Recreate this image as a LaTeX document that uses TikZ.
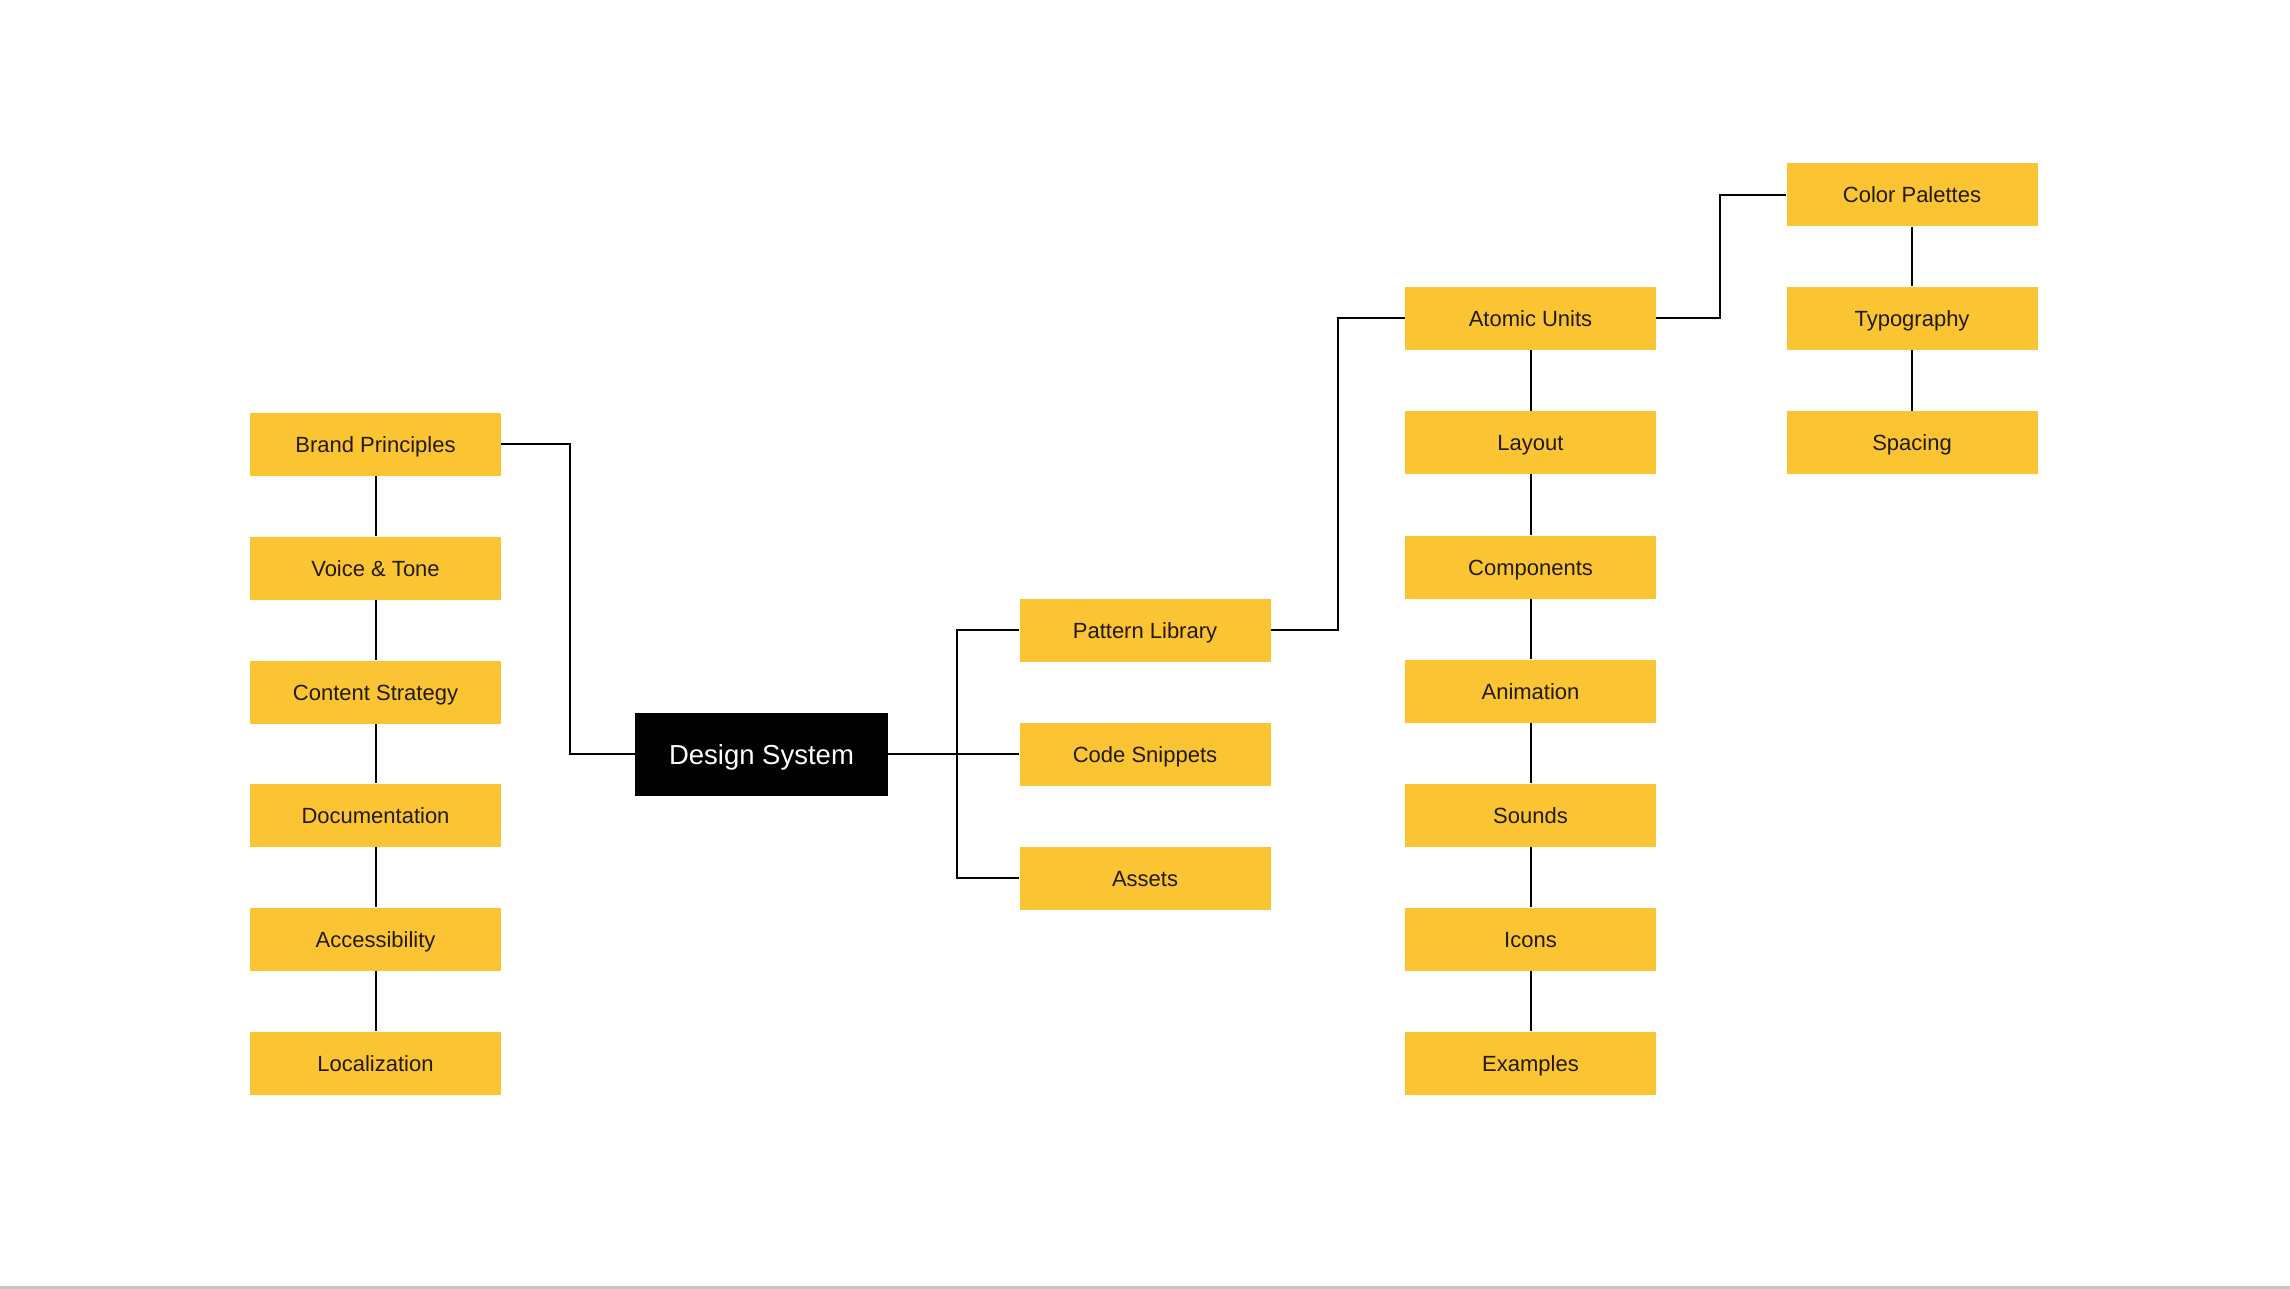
\documentclass[tikz,border=0pt]{standalone}
\usepackage{fontspec}
\setmainfont{Liberation Sans}
\definecolor{boxyellow}{RGB}{250,196,51}
\definecolor{boxtext}{RGB}{35,26,16}
\definecolor{rulegray}{RGB}{200,200,200}
\begin{document}
\begin{tikzpicture}[x=1pt,y=-1pt,
  item/.style={fill=boxyellow,draw=none,minimum width=251pt,minimum height=63pt,inner sep=0pt,
    font=\fontsize{22}{26}\selectfont,text=boxtext,text height=16pt,text depth=0pt},
  root/.style={fill=black,draw=none,minimum width=253pt,minimum height=83pt,inner sep=0pt,
    font=\fontsize{27.5}{32}\selectfont,text=white,text height=20pt,text depth=0pt},
  link/.style={draw=black,line width=2pt}]
\useasboundingbox (0,0) rectangle (2290,1289);
\fill[white] (0,0) rectangle (2290,1289);
\fill[rulegray] (0,1286) rectangle (2290,1289);
% left column
\node[item] (bp) at (375.5,444) {Brand Principles};
\node[item] (vt) at (375.5,568) {Voice \& Tone};
\node[item] (cst) at (375.5,692) {Content Strategy};
\node[item] (doc) at (375.5,815) {Documentation};
\node[item] (acc) at (375.5,939) {Accessibility};
\node[item] (loc) at (375.5,1063) {Localization};
% root
\node[root] (ds) at (761.5,754) {Design System};
% middle branch
\node[item] (pl) at (1145,630) {Pattern Library};
\node[item] (cs) at (1145,754) {Code Snippets};
\node[item] (as) at (1145,878) {Assets};
% pattern library column
\node[item] (au) at (1530.5,318) {Atomic Units};
\node[item] (lay) at (1530.5,442.5) {Layout};
\node[item] (comp) at (1530.5,567) {Components};
\node[item] (anim) at (1530.5,691) {Animation};
\node[item] (snd) at (1530.5,815) {Sounds};
\node[item] (ico) at (1530.5,939) {Icons};
\node[item] (ex) at (1530.5,1063) {Examples};
% atomic units column
\node[item] (cp) at (1912,195) {Color Palettes};
\node[item] (typ) at (1912,318) {Typography};
\node[item] (spc) at (1912,442.5) {Spacing};
% bus coordinates
\coordinate (b1) at (570,754);
\coordinate (b2) at (957,754);
\coordinate (b3) at (1338,630);
\coordinate (b4) at (1720,318);
% connectors
\draw[link] (bp.east) -| (b1) -- (ds.west);
\draw[link] (ds.east) -- (cs.west);
\draw[link] (pl.west) -- (pl.west -| b2) -- (as.west -| b2) -- (as.west);
\draw[link] (pl.east) -- (b3) |- (au.west);
\draw[link] (au.east) -- (b4) |- (cp.west);
\draw[link] (bp.south) -- (vt.north);
\draw[link] (vt.south) -- (cst.north);
\draw[link] (cst.south) -- (doc.north);
\draw[link] (doc.south) -- (acc.north);
\draw[link] (acc.south) -- (loc.north);
\draw[link] (au.south) -- (lay.north);
\draw[link] (lay.south) -- (comp.north);
\draw[link] (comp.south) -- (anim.north);
\draw[link] (anim.south) -- (snd.north);
\draw[link] (snd.south) -- (ico.north);
\draw[link] (ico.south) -- (ex.north);
\draw[link] (cp.south) -- (typ.north);
\draw[link] (typ.south) -- (spc.north);
\end{tikzpicture}
\end{document}
